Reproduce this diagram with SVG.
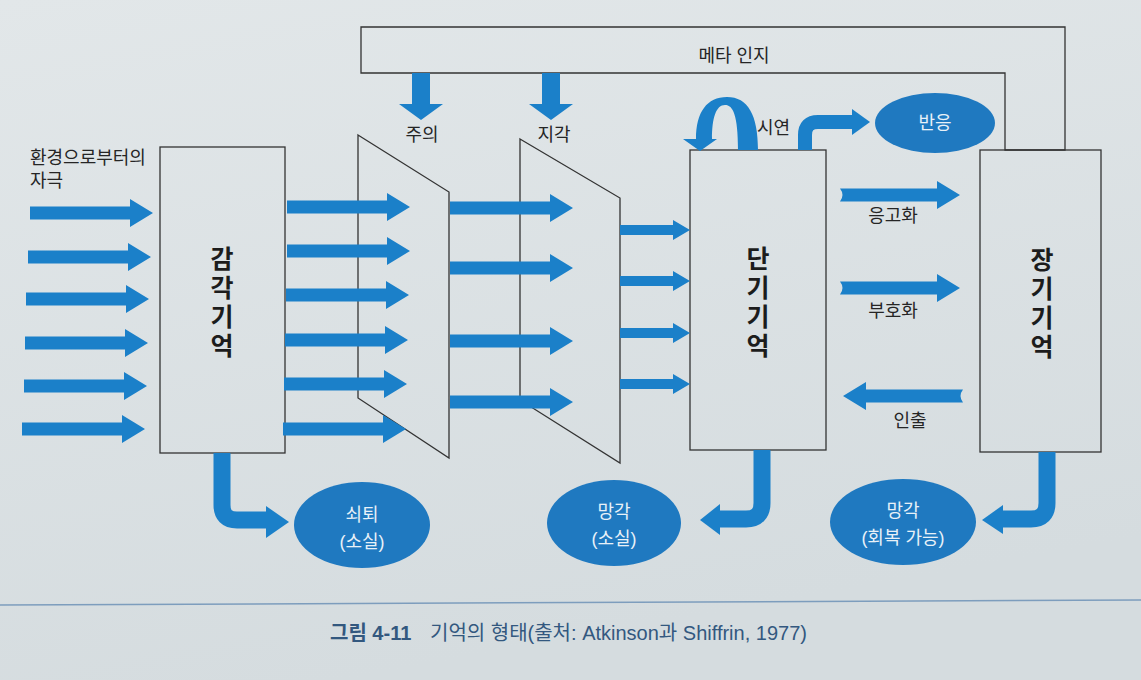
<svg xmlns="http://www.w3.org/2000/svg" width="1141" height="680" viewBox="0 0 1141 680">
<style>
  .box { fill: none; stroke: #333; stroke-width: 1.3; }
  .lbl { font-family: "Liberation Sans", "Noto Sans CJK KR", sans-serif; font-size: 18px; fill: #252525; }
  .big { font-family: "Liberation Sans", "Noto Sans CJK KR", sans-serif; font-size: 25px; font-weight: bold; fill: #1c1c1c; text-anchor: middle; }
  .wt { font-family: "Liberation Sans", "Noto Sans CJK KR", sans-serif; font-size: 18px; fill: #e8f1f8; text-anchor: middle; }
  .ell { fill: #1f79c0; }
  .arr { fill: #1b80c9; }
  .bend { fill: none; stroke: #1b80c9; }
  .cap { font-family: "Liberation Sans", "Noto Sans CJK KR", sans-serif; font-size: 20px; fill: #33587f; }
</style>
<defs>
  <linearGradient id="bg" x1="0" y1="0" x2="0.3" y2="1">
    <stop offset="0" stop-color="#e2e7e9"/>
    <stop offset="1" stop-color="#d5dcdf"/>
  </linearGradient>
  <path id="bigArrow" fill="#1b80c9" d="M0,-6.5 H100 V-14 L123,0 L100,14 V6.5 H0 Z"/>
  <path id="smallArrow" fill="#1b80c9" d="M0,-5 H53 V-10 L70,0 L53,10 V5 H0 Z"/>
  <path id="notchArrow" fill="#1b80c9" d="M0,-6.5 H97 V-14 L120,0 L97,14 V6.5 H0 Q5,0 0,-6.5 Z"/>
</defs>
<rect width="1141" height="680" fill="url(#bg)"/>

<!-- metacognition frame -->
<g id="meta">
  <polygon class="box" points="361,27 1065,27 1065,150 1005,150 1005,73 361,73"/>
  <text class="lbl" x="734" y="62" text-anchor="middle">메타 인지</text>
</g>

<!-- stimulus label -->
<g id="stimulus">
  <text class="lbl" x="30" y="164">환경으로부터의</text>
  <text class="lbl" x="30" y="187">자극</text>
</g>

<!-- sensory memory -->
<g id="sensory">
  <rect class="box" x="160" y="147" width="125" height="306"/>
  <text class="big" x="222" y="268">감</text>
  <text class="big" x="222" y="297">각</text>
  <text class="big" x="222" y="326">기</text>
  <text class="big" x="222" y="355">억</text>
</g>

<!-- attention filter -->
<g id="attention">
  <polygon class="box" points="358,135 449,192 449,458 358,398"/>
  <text class="lbl" x="422" y="141" text-anchor="middle">주의</text>
</g>

<!-- perception filter -->
<g id="perception">
  <polygon class="box" points="520,139 620,198 620,463 520,400"/>
  <text class="lbl" x="554" y="141" text-anchor="middle">지각</text>
</g>

<!-- short-term memory -->
<g id="stm">
  <rect class="box" x="690" y="150" width="136" height="300"/>
  <text class="big" x="758" y="268">단</text>
  <text class="big" x="758" y="297">기</text>
  <text class="big" x="758" y="326">기</text>
  <text class="big" x="758" y="355">억</text>
</g>

<!-- long-term memory -->
<g id="ltm">
  <rect class="box" x="980" y="150" width="121" height="302"/>
  <text class="big" x="1042" y="269">장</text>
  <text class="big" x="1042" y="298">기</text>
  <text class="big" x="1042" y="327">기</text>
  <text class="big" x="1042" y="356">억</text>
</g>

<!-- outcome ellipses -->
<g id="response">
  <ellipse class="ell" cx="935" cy="123" rx="60" ry="30"/>
  <text class="wt" x="935" y="129">반응</text>
</g>
<g id="decay">
  <ellipse class="ell" cx="362" cy="525" rx="68" ry="43"/>
  <text class="wt" x="362" y="521">쇠퇴</text>
  <text class="wt" x="362" y="548">(소실)</text>
</g>
<g id="forget-lost">
  <ellipse class="ell" cx="614" cy="523" rx="67" ry="43"/>
  <text class="wt" x="614" y="518">망각</text>
  <text class="wt" x="614" y="545">(소실)</text>
</g>
<g id="forget-recoverable">
  <ellipse class="ell" cx="903" cy="522" rx="73" ry="43"/>
  <text class="wt" x="903" y="517">망각</text>
  <text class="wt" x="903" y="544">(회복 가능)</text>
</g>

<!-- connectors -->
<g id="connectors">
  <!-- meta down arrows -->
  <rect class="arr" x="412" y="73" width="18" height="32"/>
  <polygon class="arr" points="399,104 443,104 421,120"/>
  <rect class="arr" x="542" y="73" width="18" height="32"/>
  <polygon class="arr" points="529,104 573,104 551,120"/>

  <!-- stimuli into sensory memory -->
  <use href="#bigArrow" x="30" y="213"/>
  <use href="#bigArrow" x="28" y="257"/>
  <use href="#bigArrow" x="26" y="299"/>
  <use href="#bigArrow" x="25" y="343"/>
  <use href="#bigArrow" x="24" y="386"/>
  <use href="#bigArrow" x="22" y="429"/>

  <!-- sensory to attention -->
  <use href="#bigArrow" x="287" y="207"/>
  <use href="#bigArrow" x="287" y="251"/>
  <use href="#bigArrow" x="286" y="295"/>
  <use href="#bigArrow" x="285" y="340"/>
  <use href="#bigArrow" x="284" y="384"/>
  <use href="#bigArrow" x="283" y="429"/>

  <!-- attention to perception -->
  <use href="#bigArrow" x="450" y="208"/>
  <use href="#bigArrow" x="450" y="268"/>
  <use href="#bigArrow" x="450" y="341"/>
  <use href="#bigArrow" x="450" y="402"/>

  <!-- perception to STM -->
  <use href="#smallArrow" x="620" y="230"/>
  <use href="#smallArrow" x="620" y="281"/>
  <use href="#smallArrow" x="620" y="333"/>
  <use href="#smallArrow" x="620" y="384"/>

  <!-- rehearsal loop -->
  <path class="arr" d="M738,150 C738,115 733,105 725,105 C716,105 712,118 712,139 H717 L700,151 L683,139 H696 C696,112 707,97 727,97 C748,97 758,115 758,150 Z"/>
  <text class="lbl" x="757" y="134">시연</text>

  <!-- response -->
  <path class="bend" stroke-width="14" d="M805,150 V135 Q805,122 818,122 H853"/>
  <polygon class="arr" points="852,109 852,135 870,122"/>

  <!-- STM <-> LTM -->
  <use href="#notchArrow" x="840" y="195"/>
  <text class="lbl" x="893" y="222" text-anchor="middle">응고화</text>
  <use href="#notchArrow" x="840" y="288"/>
  <text class="lbl" x="893" y="317" text-anchor="middle">부호화</text>
  <use href="#notchArrow" transform="translate(963,396) scale(-1,1)"/>
  <text class="lbl" x="910" y="427" text-anchor="middle">인출</text>

  <!-- loss arrows -->
  <path class="bend" stroke-width="17" d="M222,453 V505 Q222,520 237,520 H268"/>
  <polygon class="arr" points="266,506 266,538 289,522"/>
  <path class="bend" stroke-width="17" d="M762,450 V503 Q762,519 746,519 H718"/>
  <polygon class="arr" points="720,504 720,535 700,520"/>
  <path class="bend" stroke-width="17" d="M1047,452 V503 Q1047,519 1031,519 H1001"/>
  <polygon class="arr" points="1003,505 1003,534 982,520"/>
</g>

<!-- caption -->
<g id="caption">
  <line x1="0" y1="605" x2="1141" y2="600" stroke="#7d9dbd" stroke-width="1.5"/>
  <text class="cap" x="330" y="640" font-weight="bold" fill="#2b5584">그림 4-11</text>
  <text class="cap" x="430" y="640">기억의 형태(출처: Atkinson과 Shiffrin, 1977)</text>
</g>
</svg>
